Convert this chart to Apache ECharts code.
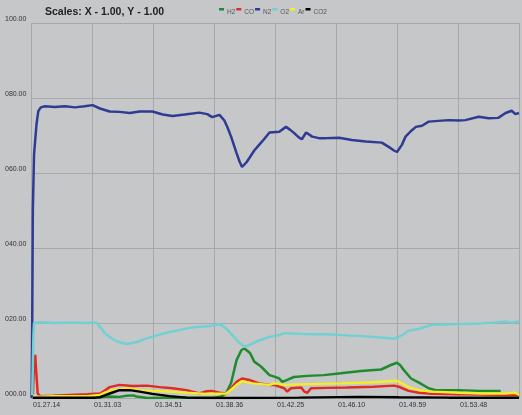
<!DOCTYPE html>
<html><head><meta charset="utf-8">
<script src="https://cdn.jsdelivr.net/npm/echarts@6/dist/echarts.min.js"></script>
<style>html,body{margin:0;padding:0;background:#c5c7c9}#c{width:522px;height:415px}</style>
</head><body><div id="c"></div>
<script>
// x values are in grid divisions (one division per tick label)
var xTickLabels = ['01.27.14','01.31.03','01.34.51','01.38.36','01.42.25','01.46.10','01.49.59','01.53.48',''];
var seriesNames = ['H2','CO','N2','O2','Ar','CO2'];

var h2Data = [[0.03,0.1],[0.47,0.1],[1.05,0.1],[1.21,0.3],[1.29,0.4],[1.45,0.3],[1.57,0.6],[1.67,0.7],[1.73,0.4],[1.90,0.0],[2.43,0.1],[3.01,0.1],[3.12,0.4],[3.20,1.3],[3.28,4.0],[3.37,10.1],[3.45,12.8],[3.50,13.2],[3.59,12.0],[3.66,9.7],[3.77,8.4],[3.91,6.1],[3.99,5.7],[4.07,5.2],[4.12,4.3],[4.21,4.9],[4.31,5.6],[4.53,5.9],[4.80,6.1],[5.08,6.6],[5.41,7.2],[5.74,7.6],[5.90,8.8],[6.00,9.4],[6.05,8.8],[6.11,7.5],[6.23,5.2],[6.36,4.1],[6.52,2.6],[6.63,2.1],[7.01,2.1],[7.34,1.9],[7.66,1.9],[7.70,1.9]];

var coData = [[0.03,1.0],[0.05,9.0],[0.07,11.5],[0.08,8.4],[0.11,1.2],[0.15,0.5],[0.36,0.6],[0.64,0.8],[0.92,1.0],[1.13,1.2],[1.21,2.0],[1.29,2.9],[1.45,3.5],[1.67,3.2],[1.90,3.3],[2.11,2.9],[2.32,2.6],[2.55,2.1],[2.76,1.2],[2.88,1.8],[2.97,1.9],[3.09,1.4],[3.20,1.2],[3.28,2.6],[3.37,4.3],[3.46,5.2],[3.58,4.8],[3.74,3.9],[3.91,3.5],[3.99,3.5],[4.15,2.6],[4.20,1.7],[4.26,2.6],[4.43,2.8],[4.48,1.7],[4.53,1.4],[4.59,2.6],[4.85,2.7],[5.18,2.8],[5.62,3.0],[5.95,3.3],[6.03,3.0],[6.19,1.9],[6.36,1.4],[6.57,1.1],[7.01,1.0],[7.39,0.9],[7.78,0.8],[8.00,0.8]];

var n2Data = [[0.01,0],[0.02,20],[0.03,50],[0.05,65],[0.07,69],[0.09,73],[0.12,76.5],[0.16,77.5],[0.23,77.8],[0.39,77.6],[0.56,77.8],[0.72,77.5],[0.88,77.8],[1.01,78.1],[1.13,77.2],[1.29,76.4],[1.45,76.3],[1.62,76.0],[1.78,76.4],[1.99,76.4],[2.16,75.6],[2.32,75.2],[2.52,75.6],[2.76,76.1],[2.89,75.7],[2.97,74.9],[3.09,75.5],[3.17,74.0],[3.22,72.2],[3.28,69.7],[3.37,65.3],[3.42,63.0],[3.46,61.6],[3.53,62.8],[3.58,64.0],[3.66,66.0],[3.74,67.5],[3.82,69.0],[3.91,70.8],[4.07,71.0],[4.18,72.3],[4.25,71.5],[4.31,70.7],[4.39,69.5],[4.44,69.0],[4.51,70.8],[4.61,69.7],[4.72,69.3],[4.84,69.3],[5.05,69.4],[5.26,68.8],[5.49,68.4],[5.75,68.1],[5.87,66.9],[5.95,66.0],[6.00,65.6],[6.08,67.5],[6.14,69.7],[6.23,71.2],[6.31,72.3],[6.41,72.6],[6.52,73.7],[6.68,73.9],[6.85,74.1],[7.01,74.0],[7.12,74.1],[7.34,75.0],[7.50,74.6],[7.66,74.7],[7.78,76.0],[7.88,76.6],[7.94,75.7],[8.00,76.0]];

var o2Data = [[0.02,0.8],[0.03,9],[0.04,17],[0.05,20],[0.15,20.2],[0.39,20.0],[0.64,20.1],[0.88,20.0],[1.07,20.1],[1.14,18.8],[1.21,17.3],[1.31,16.0],[1.42,15.0],[1.58,14.4],[1.75,15.0],[1.86,15.7],[1.98,16.3],[2.11,16.9],[2.27,17.6],[2.43,18.1],[2.60,18.7],[2.76,19.0],[2.92,19.2],[3.01,19.4],[3.09,19.7],[3.17,18.9],[3.25,17.7],[3.33,16.2],[3.42,14.7],[3.50,13.7],[3.59,14.2],[3.69,15.0],[3.79,15.6],[3.91,16.3],[4.07,16.8],[4.15,17.3],[4.31,17.2],[4.43,17.1],[4.64,17.0],[4.80,17.0],[4.97,16.9],[5.18,16.7],[5.41,16.5],[5.62,16.3],[5.83,16.0],[5.95,15.8],[6.03,16.3],[6.11,17.0],[6.18,17.9],[6.35,18.4],[6.57,19.5],[6.76,19.6],[7.01,19.7],[7.21,19.8],[7.39,19.9],[7.58,20.1],[7.78,20.4],[7.87,20.1],[8.00,20.4]];

var arData = [[0.03,0.3],[0.36,0.5],[0.92,0.5],[1.13,0.8],[1.21,1.4],[1.34,2.1],[1.57,2.6],[1.78,2.1],[1.99,1.9],[2.27,1.7],[2.55,1.4],[2.88,1.1],[3.20,1.2],[3.28,2.2],[3.37,3.5],[3.46,4.5],[3.63,3.9],[3.91,3.5],[3.99,3.9],[4.15,3.5],[4.53,3.7],[5.08,3.9],[5.62,4.2],[6.00,4.6],[6.08,3.9],[6.19,2.9],[6.36,2.1],[6.57,1.7],[7.01,1.4],[7.39,1.2],[7.78,1.2],[7.94,1.4],[8.00,0.8]];

var co2Data = [[0.03,0.1],[1.05,0.1],[1.13,0.2],[1.21,0.7],[1.29,1.2],[1.45,2.1],[1.62,2.1],[1.78,1.7],[1.99,1.1],[2.27,0.5],[2.55,0.1],[2.88,0.0],[3.42,0.0],[4.39,0.1],[5.38,0.3],[6.03,0.2],[6.85,0.1],[8.00,0.1]];

var seriesData = [h2Data, coData, n2Data, o2Data, arData, co2Data];
var seriesColors = ['#1f8a2e','#e02a26','#2f3b93','#70d0d2','#f2ee28','#000000'];

var chart = echarts.init(document.getElementById('c'), null, {renderer:'canvas'});
var series = seriesNames.map(function(n,i){
  return {name:n, type:'line', data:seriesData[i], showSymbol:false, symbol:'none',
    lineStyle:{width:2.5,color:seriesColors[i]}, itemStyle:{color:seriesColors[i]}, animation:false, z:2+i};
});
chart.setOption({
  backgroundColor:'#c5c7c9',
  animation:false,
  title:{text:'Scales: X - 1.00, Y - 1.00', left:40, top:2,
    textStyle:{fontFamily:'Liberation Sans', fontWeight:'bold', fontSize:10.5, color:'#222'}},
  legend:{left:214, top:3, itemWidth:5, itemHeight:9, itemGap:1,
    icon:'path://M0,0L6,0L6,3L0,3Z M0,9L0.01,9Z',
    data:seriesNames,
    textStyle:{fontFamily:'Liberation Sans', fontSize:6.5, color:'#555', padding:[2,0,0,-2]}},
  grid:{left:31, right:2, top:23, bottom:17},
  xAxis:{type:'value', min:0, max:8, interval:1,
    axisLine:{show:false}, axisTick:{show:false},
    splitLine:{show:true, lineStyle:{color:'#a6a8aa', width:1}},
    axisLabel:{fontFamily:'Liberation Sans', fontSize:7, color:'#333', align:'left', margin:4, padding:[0,0,0,2],
      formatter:function(v){var r=Math.round(v); return Math.abs(v-r)<1e-6 ? (xTickLabels[r]||'') : '';}}},
  yAxis:{type:'value', min:0, max:100, interval:20,
    axisLine:{show:false}, axisTick:{show:false},
    splitLine:{show:true, lineStyle:{color:'#a6a8aa', width:1}},
    axisLabel:{fontFamily:'Liberation Sans', fontSize:7, color:'#333', align:'left', margin:26, verticalAlign:'bottom',
      formatter:function(v){var s=v.toFixed(2); while(s.length<6) s='0'+s; return s;}}},
  series:series
});
</script></body></html>
